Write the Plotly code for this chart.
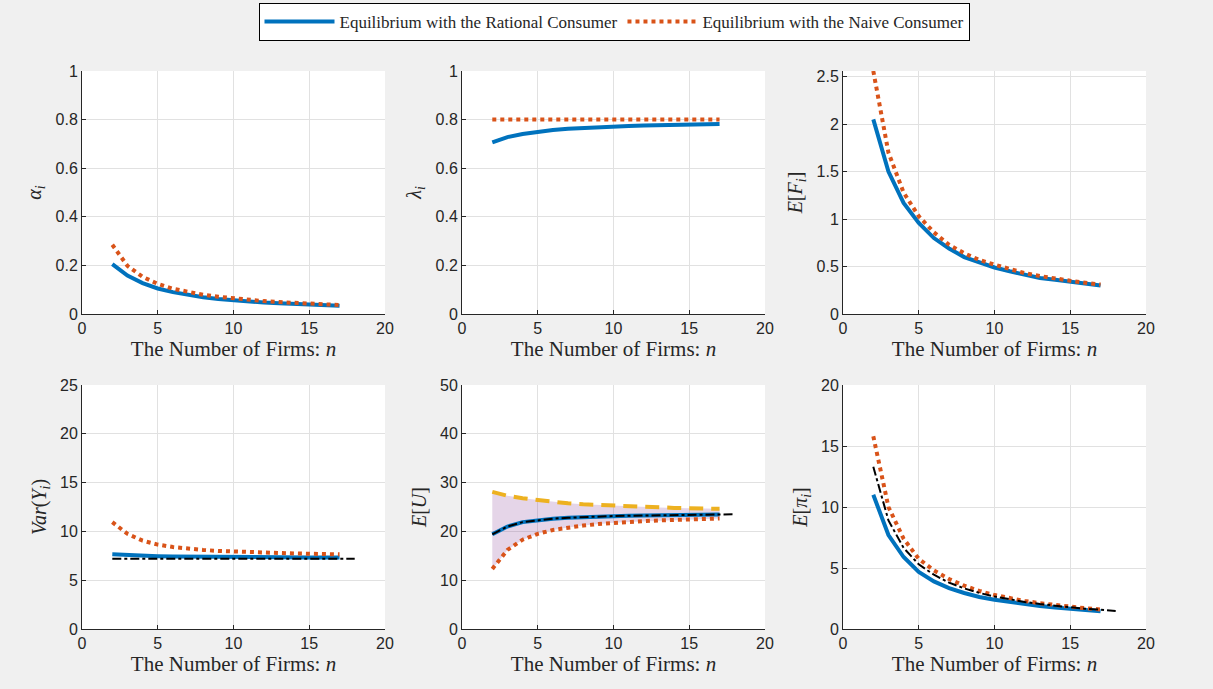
import plotly.graph_objects as go

# ---------------- data ----------------
n = [2, 3, 4, 5, 6, 7, 8, 9, 10, 11, 12, 13, 14, 15, 16, 17]
n_ext = [2, 3, 4, 5, 6, 7, 8, 9, 10, 11, 12, 13, 14, 15, 16, 17, 18]

alpha_rational = [0.205, 0.158, 0.127, 0.105, 0.090, 0.078, 0.069, 0.062, 0.056, 0.051, 0.047, 0.044, 0.041, 0.038, 0.036, 0.034]
alpha_naive = [0.285, 0.198, 0.153, 0.124, 0.104, 0.090, 0.079, 0.071, 0.064, 0.058, 0.053, 0.049, 0.046, 0.043, 0.040, 0.037]

lambda_rational = [0.706, 0.728, 0.741, 0.751, 0.757, 0.762, 0.766, 0.769, 0.772, 0.774, 0.776, 0.778, 0.779, 0.780, 0.781, 0.782]
lambda_naive = [0.8] * 16

EF_rational = [2.05, 1.50, 1.17, 0.96, 0.80, 0.69, 0.60, 0.54, 0.49, 0.45, 0.41, 0.38, 0.36, 0.34, 0.32, 0.30]
EF_naive = [2.56, 1.70, 1.28, 1.03, 0.86, 0.73, 0.64, 0.57, 0.52, 0.47, 0.43, 0.40, 0.37, 0.35, 0.33, 0.31]

Var_rational = [7.65, 7.56, 7.50, 7.46, 7.43, 7.41, 7.39, 7.38, 7.37, 7.36, 7.35, 7.34, 7.34, 7.33, 7.33, 7.32]
Var_naive = [10.95, 9.75, 9.05, 8.65, 8.40, 8.22, 8.10, 8.00, 7.93, 7.87, 7.82, 7.78, 7.74, 7.71, 7.68, 7.65]
Var_bench = [7.2] * 17

EU_rational = [19.4, 21.0, 21.9, 22.3, 22.6, 22.8, 22.95, 23.05, 23.15, 23.2, 23.25, 23.3, 23.35, 23.4, 23.42, 23.45]
EU_naive = [12.3, 16.2, 18.3, 19.5, 20.3, 20.8, 21.2, 21.5, 21.75, 21.95, 22.1, 22.25, 22.35, 22.45, 22.55, 22.65]
EU_upper = [28.1, 27.3, 26.8, 26.4, 26.0, 25.75, 25.55, 25.4, 25.25, 25.1, 25.0, 24.9, 24.82, 24.75, 24.68, 24.62]
EU_bench = [19.4, 21.0, 21.9, 22.3, 22.6, 22.8, 22.95, 23.05, 23.15, 23.2, 23.25, 23.3, 23.35, 23.4, 23.42, 23.45, 23.5]

Pi_rational = [11.0, 7.7, 5.9, 4.67, 3.9, 3.35, 2.95, 2.62, 2.40, 2.20, 2.03, 1.88, 1.76, 1.66, 1.55, 1.45]
Pi_naive = [15.8, 10.0, 7.4, 5.75, 4.8, 4.1, 3.55, 3.12, 2.78, 2.52, 2.30, 2.11, 1.95, 1.81, 1.70, 1.60]
Pi_bench = [13.3, 8.9, 6.65, 5.3, 4.45, 3.8, 3.33, 2.96, 2.66, 2.42, 2.22, 2.05, 1.9, 1.78, 1.67, 1.57, 1.48]

# ---------------- style ----------------
BLUE = "#0072BD"
ORANGE = "#D95319"
YELLOW = "#EDB120"
FILL = "rgba(126,47,142,0.2)"
SERIF = "Liberation Serif"
SANS = "Liberation Sans"
AX = "#262626"
GRID = "#e1e1e1"

W, H = 1213, 689
xcols = [(82, 385), (462, 765), (843, 1146)]
yrows = [(71, 314), (385, 629)]

fig = go.Figure()

panels = [
    # (row, col, ytitle, yrange, dtick)
    (0, 0, "<i>α</i><sub><i>i</i></sub>", [0, 1], 0.2),
    (0, 1, "<i>λ</i><sub><i>i</i></sub>", [0, 1], 0.2),
    (0, 2, "<i>E</i>[<i>F</i><sub><i>i</i></sub>]", [0, 2.56], 0.5),
    (1, 0, "<i>Var</i>(<i>Y</i><sub><i>i</i></sub>)", [0, 25], 5),
    (1, 1, "<i>E</i>[<i>U</i>]", [0, 50], 10),
    (1, 2, "<i>E</i>[<i>π</i><sub><i>i</i></sub>]", [0, 20], 5),
]

layout_axes = {}
for k, (r, c, ytitle, yr, dt) in enumerate(panels):
    idx = "" if k == 0 else str(k + 1)
    x0, x1 = xcols[c]
    ytop, ybot = yrows[r]
    layout_axes["xaxis" + idx] = dict(
        domain=[x0 / W, x1 / W], anchor="y" + idx, range=[0, 20], dtick=5,
        showgrid=True, gridcolor=GRID, gridwidth=1, zeroline=False,
        showline=True, linecolor=AX, linewidth=1, ticks="inside", ticklen=4,
        tickcolor=AX, tickfont=dict(family=SANS, size=16, color=AX),
        title=dict(text="The Number of Firms: <i>n</i>", font=dict(family=SERIF, size=21, color=AX), standoff=2),
    )
    layout_axes["yaxis" + idx] = dict(
        domain=[1 - ybot / H, 1 - ytop / H], anchor="x" + idx, range=yr, dtick=dt,
        showgrid=True, gridcolor=GRID, gridwidth=1, zeroline=False,
        showline=True, linecolor=AX, linewidth=1, ticks="inside", ticklen=4,
        tickcolor=AX, tickfont=dict(family=SANS, size=16, color=AX),
        title=dict(text=ytitle, font=dict(family=SERIF, size=20, color=AX), standoff=8),
    )


def ax(k):
    return ("x" if k == 0 else "x" + str(k + 1)), ("y" if k == 0 else "y" + str(k + 1))


def add_pair(k, rat, nai, legend=False):
    xa, ya = ax(k)
    fig.add_trace(go.Scatter(x=n, y=rat, mode="lines", line=dict(color=BLUE, width=4),
                             name="Equilibrium with the Rational Consumer", showlegend=legend,
                             xaxis=xa, yaxis=ya))
    fig.add_trace(go.Scatter(x=n, y=nai, mode="lines", line=dict(color=ORANGE, width=4, dash="4px,4px"),
                             name="Equilibrium with the Naive Consumer", showlegend=legend,
                             xaxis=xa, yaxis=ya))


def add_bench(k, vals):
    xa, ya = ax(k)
    fig.add_trace(go.Scatter(x=n_ext, y=vals, mode="lines", line=dict(color="black", width=2, dash="dashdot"),
                             showlegend=False, xaxis=xa, yaxis=ya))


add_pair(0, alpha_rational, alpha_naive, legend=True)
add_pair(1, lambda_rational, lambda_naive)
add_pair(2, EF_rational, EF_naive)

add_pair(3, Var_rational, Var_naive)
add_bench(3, Var_bench)

# E[U] panel with shaded band
xa, ya = ax(4)
fig.add_trace(go.Scatter(x=n + n[::-1], y=EU_upper + EU_naive[::-1], fill="toself", fillcolor=FILL,
                         mode="lines", line=dict(width=0, color=FILL), showlegend=False,
                         hoverinfo="skip", xaxis=xa, yaxis=ya))
fig.add_trace(go.Scatter(x=n, y=EU_upper, mode="lines", line=dict(color=YELLOW, width=4, dash="14px,8px"),
                         showlegend=False, xaxis=xa, yaxis=ya))
add_pair(4, EU_rational, EU_naive)
add_bench(4, EU_bench)

add_pair(5, Pi_rational, Pi_naive)
add_bench(5, Pi_bench)

fig.update_layout(
    width=W, height=H, autosize=False,
    margin=dict(l=0, r=0, t=0, b=0, autoexpand=False),
    paper_bgcolor="#f0f0f0", plot_bgcolor="white",
    legend=dict(orientation="h", xref="container", yref="container",
                x=614 / W, xanchor="center", y=1 - 3 / H, yanchor="top",
                bgcolor="white", bordercolor="black", borderwidth=1,
                font=dict(family=SERIF, size=17, color=AX), itemwidth=70,
                tracegroupgap=0),
    **layout_axes,
)

fig.write_html("out.html")
